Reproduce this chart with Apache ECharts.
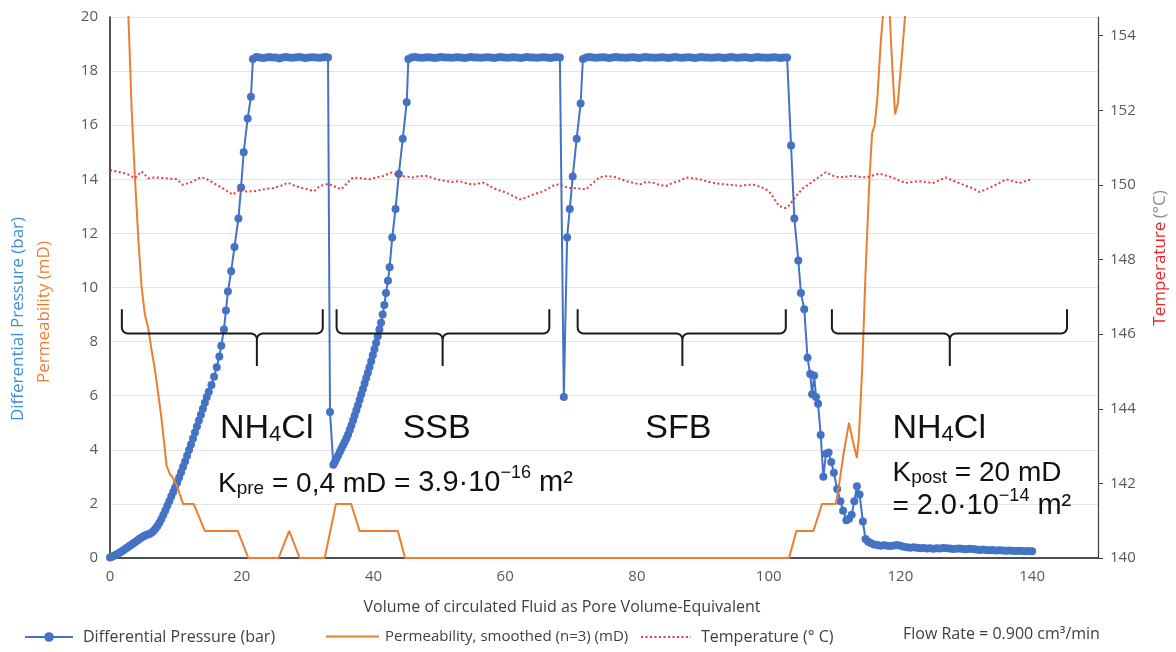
<!DOCTYPE html>
<html><head><meta charset="utf-8">
<script src="https://cdn.jsdelivr.net/npm/echarts@6/dist/echarts.min.js"></script>
<style>html,body{margin:0;padding:0;background:#fff}#c{width:1176px;height:652px}</style>
</head><body><div id="c"></div><script>
// ---------- Differential pressure (bar) vs pore volume ----------
const dpRise1 = [[0,0.02],[0.3,0.05],[0.6,0.08],[0.9,0.12],[1.2,0.16],[1.5,0.2],[1.8,0.25],[2.1,0.3],[2.4,0.35],[2.7,0.4],[3.0,0.45],[3.3,0.5],[3.6,0.55],[3.9,0.6],[4.2,0.66],[4.5,0.71],[4.8,0.76],[5.1,0.8],[5.4,0.84],[5.7,0.87],[6.0,0.89],[6.3,0.93],[6.6,1.0],[6.9,1.08],[7.2,1.18],[7.5,1.3],[7.8,1.44],[8.1,1.6],[8.4,1.76],[8.7,1.93],[9.0,2.1],[9.3,2.27],[9.6,2.44],[9.9,2.61],[10.2,2.79],[10.5,2.98],[10.8,3.17],[11.1,3.37],[11.4,3.57],[11.7,3.78],[12.0,3.99],[12.3,4.2],[12.6,4.42],[12.9,4.64],[13.2,4.86],[13.5,5.08],[13.8,5.3],[14.1,5.52],[14.4,5.74],[14.7,5.95],[15.0,6.15],[15.4,6.4],[15.8,6.7],[16.2,7.05],[16.6,7.45],[16.9,7.85],[17.3,8.45],[17.6,9.15],[17.9,9.85],[18.4,10.6],[18.9,11.5],[19.5,12.55],[19.9,13.7],[20.3,15.0],[20.9,16.25],[21.4,17.05],[21.7,18.45]];
const dpPlateau1 = [[22.2,18.52],[22.7,18.5],[23.2,18.48],[23.7,18.5],[24.2,18.52],[24.7,18.5],[25.2,18.5],[25.7,18.47],[26.2,18.5],[26.7,18.52],[27.2,18.5],[27.7,18.49],[28.2,18.5],[28.7,18.52],[29.2,18.5],[29.7,18.48],[30.2,18.5],[30.7,18.51],[31.2,18.5],[31.7,18.49],[32.2,18.5],[32.7,18.52],[33.1,18.5]];
const dpRise2 = [[33.4,5.4],[33.9,3.45],[34.15,3.55],[34.4,3.68],[34.65,3.8],[34.9,3.93],[35.15,4.05],[35.4,4.18],[35.65,4.3],[35.9,4.43],[36.15,4.57],[36.4,4.73],[36.65,4.9],[36.9,5.08],[37.15,5.27],[37.4,5.46],[37.65,5.65],[37.9,5.85],[38.15,6.05],[38.4,6.25],[38.65,6.45],[38.9,6.65],[39.15,6.85],[39.4,7.05],[39.65,7.27],[39.9,7.5],[40.15,7.72],[40.4,7.95],[40.65,8.2],[40.9,8.45],[41.15,8.7],[41.4,9.0],[41.65,9.35],[41.9,9.8],[42.2,10.25],[42.45,10.75],[42.85,11.85],[43.35,12.9],[43.85,14.2],[44.45,15.5],[45.05,16.85],[45.3,18.45]];
const dpPlateau2 = [[45.8,18.5],[46.3,18.52],[46.8,18.5],[47.3,18.49],[47.8,18.5],[48.3,18.51],[48.8,18.5],[49.3,18.48],[49.8,18.5],[50.3,18.52],[50.8,18.5],[51.3,18.5],[51.8,18.49],[52.3,18.5],[52.8,18.51],[53.3,18.5],[53.8,18.48],[54.3,18.5],[54.8,18.52],[55.3,18.5],[55.8,18.5],[56.3,18.49],[56.8,18.5],[57.3,18.51],[57.8,18.5],[58.3,18.48],[58.8,18.5],[59.3,18.52],[59.8,18.5],[60.3,18.49],[60.8,18.5],[61.3,18.51],[61.8,18.5],[62.3,18.48],[62.8,18.5],[63.3,18.52],[63.8,18.5],[64.3,18.5],[64.8,18.49],[65.3,18.5],[65.8,18.51],[66.3,18.5],[66.8,18.48],[67.3,18.5],[67.8,18.52],[68.3,18.5]];
const dpRise3 = [[68.9,5.95],[69.4,11.85],[69.8,12.9],[70.25,14.1],[70.85,15.5],[71.45,16.8],[71.8,18.45]];
const dpPlateau3 = [[72.3,18.5],[72.8,18.52],[73.3,18.5],[73.8,18.49],[74.3,18.5],[74.8,18.51],[75.3,18.5],[75.8,18.48],[76.3,18.5],[76.8,18.52],[77.3,18.5],[77.8,18.5],[78.3,18.49],[78.8,18.5],[79.3,18.51],[79.8,18.5],[80.3,18.48],[80.8,18.5],[81.3,18.52],[81.8,18.5],[82.3,18.5],[82.8,18.49],[83.3,18.5],[83.8,18.51],[84.3,18.5],[84.8,18.48],[85.3,18.5],[85.8,18.52],[86.3,18.5],[86.8,18.49],[87.3,18.5],[87.8,18.51],[88.3,18.5],[88.8,18.48],[89.3,18.5],[89.8,18.52],[90.3,18.5],[90.8,18.5],[91.3,18.49],[91.8,18.5],[92.3,18.51],[92.8,18.5],[93.3,18.48],[93.8,18.5],[94.3,18.52],[94.8,18.5],[95.3,18.49],[95.8,18.5],[96.3,18.51],[96.8,18.5],[97.3,18.48],[97.8,18.5],[98.3,18.52],[98.8,18.5],[99.3,18.5],[99.8,18.49],[100.3,18.5],[100.8,18.51],[101.3,18.5],[101.8,18.48],[102.3,18.5],[102.8,18.5]];
const dpDecline = [[103.4,15.25],[103.9,12.55],[104.5,11.0],[104.9,9.8],[105.4,9.2],[105.9,7.4],[106.3,6.8],[106.6,6.05],[106.9,6.75],[107.2,5.95],[107.5,5.7],[107.9,4.55],[108.3,3.0],[108.7,3.85],[109.1,3.9],[109.5,3.55],[109.9,3.15],[110.4,2.55],[110.9,2.1],[111.3,1.75],[111.8,1.4],[112.2,1.45],[112.6,1.6],[113.0,2.1],[113.4,2.65],[113.8,2.35],[114.3,1.35],[114.7,0.7],[115.1,0.6]];
const dpTail = [[115.5,0.55],[116,0.5],[116.5,0.48],[117,0.45],[117.5,0.47],[118,0.45],[118.5,0.44],[119,0.46],[119.5,0.48],[120,0.45],[120.5,0.42],[121,0.4],[121.5,0.38],[122,0.4],[122.5,0.38],[123,0.36],[123.5,0.37],[124,0.35],[124.5,0.36],[125,0.34],[125.5,0.36],[126,0.35],[126.5,0.37],[127,0.36],[127.5,0.35],[128,0.33],[128.5,0.34],[129,0.35],[129.5,0.33],[130,0.32],[130.5,0.34],[131,0.33],[131.5,0.31],[132,0.3],[132.5,0.31],[133,0.3],[133.5,0.29],[134,0.3],[134.5,0.28],[135,0.29],[135.5,0.28],[136,0.27],[136.5,0.28],[137,0.27],[137.5,0.26],[138,0.27],[138.5,0.26],[139,0.25],[139.5,0.26],[140,0.25]];

// ---------- Permeability, smoothed (mD) ----------
const permeability = [[1.0,60],[2.0,30],[2.8,20],[3.3,16.5],[3.8,14],[4.3,11.8],[4.8,10],[5.3,9.0],[5.8,8.5],[6.3,7.7],[6.8,7.0],[7.3,6.1],[7.8,5.2],[8.2,4.3],[8.6,3.4],[9.1,3.1],[9.6,2.95],[10.1,2.7],[10.6,2.35],[11.1,2.0],[12.7,2.0],[14.4,1.0],[19.4,1.0],[21.0,0],[25.6,0],[27.2,1.0],[28.8,0],[32.6,0],[34.3,2.0],[36.6,2.0],[37.9,1.0],[43.7,1.0],[44.8,0],[103.1,0],[104.2,1.0],[106.8,1.0],[108.1,2.0],[110.2,2.0],[110.8,2.9],[111.4,3.9],[112.2,5.0],[112.8,4.3],[113.4,3.7],[113.7,4.5],[114.2,7.0],[114.7,10.5],[115.3,14.0],[115.7,15.7],[116.1,16.0],[116.5,17.0],[117.0,19.0],[117.5,20.5],[117.9,21.0],[118.4,20.0],[118.8,18.0],[119.2,16.4],[119.6,16.8],[120.2,18.5],[120.7,20.0],[121.3,23],[122,25],[125,24],[130,23],[135,23],[140,22]];

// ---------- Temperature (°C) ----------
const temperature = [[0,150.4],[1.2,150.35],[2.5,150.3],[3.8,150.18],[4.8,150.36],[5.8,150.18],[7,150.2],[8.5,150.18],[10.1,150.15],[11.1,150.0],[12.6,150.09],[13.7,150.2],[14.4,150.18],[15.7,150.05],[17.2,149.9],[18.6,149.74],[19.8,149.88],[20.2,149.82],[21.9,149.83],[23.3,149.88],[24.9,149.92],[26,149.98],[27,150.06],[28,149.98],[29,149.92],[30,149.88],[31,149.83],[31.85,149.97],[33.1,150.03],[34.2,149.95],[35.1,149.88],[36.0,150.05],[36.9,150.2],[38,150.18],[39.4,150.15],[40.5,150.2],[41.5,150.24],[42.7,150.33],[44.0,150.24],[45,150.22],[46,150.2],[47,150.24],[48,150.24],[49.6,150.15],[50.4,150.12],[51.1,150.1],[52,150.08],[53.1,150.1],[54,150.05],[55.1,150.01],[56.6,150.06],[57.4,150.0],[58.1,149.92],[59.2,149.85],[60.2,149.79],[61.2,149.7],[62.2,149.61],[63.0,149.65],[63.7,149.7],[64.5,149.76],[65.2,149.79],[66,149.85],[66.7,149.92],[67.5,150.0],[68.3,150.01],[69.0,149.95],[69.8,149.92],[70.3,149.92],[71.3,149.9],[72.3,149.88],[73.3,150.05],[74.3,150.2],[75.5,150.24],[76.9,150.2],[77.6,150.15],[78.4,150.1],[79.4,150.06],[80.4,150.01],[81.4,150.08],[82.4,150.06],[83.4,150.0],[84.4,149.97],[85.4,150.05],[86.4,150.1],[87.5,150.2],[88.5,150.18],[89.5,150.15],[90.5,150.1],[91.5,150.06],[92.5,150.03],[93.5,150.01],[94.5,150.0],[95.6,149.97],[96.6,150.0],[97.6,150.01],[98.6,149.96],[99.6,149.88],[100.1,149.81],[100.6,149.7],[101.1,149.55],[101.6,149.44],[102.1,149.4],[102.6,149.38],[103.1,149.45],[103.6,149.57],[104.4,149.75],[105.2,149.91],[106.0,150.0],[106.7,150.1],[107.7,150.22],[108.7,150.34],[109.7,150.25],[110.7,150.2],[111.7,150.22],[112.7,150.25],[113.7,150.22],[114.8,150.2],[115.8,150.25],[116.8,150.3],[117.8,150.25],[118.8,150.2],[119.8,150.12],[120.8,150.05],[121.8,150.08],[122.8,150.1],[123.8,150.08],[124.9,150.05],[125.9,150.12],[126.9,150.2],[127.9,150.12],[128.9,150.05],[129.9,149.98],[131.0,149.91],[132.0,149.81],[133.0,149.88],[134.0,149.96],[135.0,150.05],[136.1,150.15],[137.1,150.1],[138.1,150.05],[139.0,150.1],[139.9,150.15]];

// ---------- axis ticks / labels ----------
const xTicks = [0,20,40,60,80,100,120,140];
const tempTicks = [140,142,144,146,148,150,152,154];
const seriesNames = ['Differential Pressure (bar)','Permeability, smoothed (n=3) (mD)','Temperature (° C)'];

// phase brackets: [start, end, centre] in pore volumes
const brackets = [[1.8,32.3,22.3],[34.4,66.7,50.5],[71.0,102.6,86.9],[109.6,145.3,127.5]];

const diffPressure = [].concat(dpRise1, dpPlateau1, dpRise2, dpPlateau2, dpRise3, dpPlateau3, dpDecline, dpTail);

const chart = echarts.init(document.getElementById('c'), null, {renderer:'canvas'});
const axisFont = 'Open Sans';
const labelColor = '#595959';
function legendText(size,pad){ return {fontSize:size,fontFamily:axisFont,color:'#404040',padding:[0,0,0,pad]}; }

chart.setOption({
  animation:false,
  backgroundColor:'#fff',
  grid:{left:110,right:78,top:17,bottom:94},
  xAxis:{type:'value',min:0,max:150,interval:20,
    axisLine:{show:true,lineStyle:{color:'#1a1a1a',width:1.5}},
    axisTick:{show:false},splitLine:{show:false},
    axisLabel:{customValues:xTicks,color:labelColor,fontSize:15,fontFamily:axisFont,margin:11}},
  yAxis:[
    {type:'value',min:0,max:20,interval:2,
      axisLine:{show:true,lineStyle:{color:'#1a1a1a',width:1.5}},
      axisTick:{show:false},
      splitLine:{show:true,lineStyle:{color:'#e3e3e3',width:1.2}},
      axisLabel:{color:labelColor,fontSize:15,fontFamily:axisFont,margin:12}},
    {type:'value',position:'right',min:140,max:154.5,interval:2,
      axisLine:{show:true,lineStyle:{color:'#404040',width:1.2}},
      axisTick:{show:true,customValues:tempTicks,length:5,lineStyle:{color:'#404040'}},
      splitLine:{show:false},
      axisLabel:{customValues:tempTicks,color:labelColor,fontSize:15,fontFamily:axisFont,margin:12}}
  ],
  legend:[
    {left:19,top:624,itemWidth:48,itemHeight:12,data:[seriesNames[0]],textStyle:legendText(16,5)},
    {left:320,top:624,itemWidth:53,itemHeight:12,data:[{name:seriesNames[1],itemStyle:{opacity:0}}],textStyle:legendText(15,1)},
    {left:635,top:624,itemWidth:50,itemHeight:12,data:[{name:seriesNames[2],itemStyle:{opacity:0}}],textStyle:legendText(16,5)}
  ],
  series:[
    {name:seriesNames[0],type:'line',yAxisIndex:0,data:diffPressure,
      symbol:'circle',symbolSize:8,color:'#4472C4',
      lineStyle:{width:2,color:'#4472C4'},itemStyle:{color:'#4472C4'},z:3},
    {name:seriesNames[1],type:'line',yAxisIndex:0,data:permeability,
      symbol:'none',clip:true,color:'#ED7D31',lineStyle:{width:2,color:'#ED7D31'},z:4},
    {name:seriesNames[2],type:'line',yAxisIndex:1,data:temperature,
      symbol:'none',color:'#E8393C',lineStyle:{width:2,color:'#E8393C',type:[2,2.5]},z:5}
  ]
});

function px(x,y){ return chart.convertToPixel({xAxisIndex:0,yAxisIndex:0},[x,y]); }
function arcPts(cx,cy,r,a0,a1){
  const pts=[]; const n=6;
  for(let i=0;i<=n;i++){ const a=(a0+(a1-a0)*i/n)*Math.PI/180; pts.push([cx+r*Math.cos(a),cy+r*Math.sin(a)]); }
  return pts;
}

const graphics = [];
// brackets (curly braces below each phase)
brackets.forEach(b=>{
  const xl = px(b[0],8.3)[0], xr = px(b[1],8.3)[0], xc = px(b[2],8.3)[0];
  const yL = px(0,8.3)[1], yTip = px(0,9.2)[1], ySp = px(0,7.1)[1];
  const r = 6;
  const left = [[xl,yTip]].concat(arcPts(xl+r,yL-r,r,180,90), arcPts(xc-r,yL+r,r,270,360), [[xc,ySp]]);
  const right = [].concat(arcPts(xc+r,yL+r,r,180,270), arcPts(xr-r,yL-r,r,90,0), [[xr,yTip]]);
  [left,right].forEach(pts=>graphics.push({type:'polyline',shape:{points:pts},
    style:{stroke:'#1a1a1a',lineWidth:2,fill:null},z:10}));
});

const annFont = 'Liberation Sans';
function tok(size,lh,va){ return {fontSize:size,fontFamily:annFont,fill:'#111',color:'#111',lineHeight:lh,verticalAlign:va}; }
const big = tok(34,40,'bottom'), bigSub = tok(22,34,'bottom');
const mid = tok(28,34,'bottom'), midSub = tok(19,29,'bottom'), midSup = tok(18,34,'top'), math = tok(29,34,'bottom');

function addText(x,y,text,rich,align){
  const p = px(x,y);
  graphics.push({type:'text',x:p[0],y:p[1],z:11,
    style:{text:text,rich:rich,align:align||'left',verticalAlign:'middle'}});
}
addText(16.7,4.9,'{a|NH}{s|4}{a|Cl}',{a:big,s:bigSub});
addText(49.6,4.9,'{a|SSB}',{a:big},'center');
addText(86.3,4.9,'{a|SFB}',{a:big},'center');
addText(118.8,4.9,'{a|NH}{s|4}{a|Cl}',{a:big,s:bigSub});
addText(16.4,2.85,'{k|K}{s|pre}{k| = 0,4 mD = }{m|3.9·10}{u|−16}{m| m²}',{k:mid,s:midSub,m:math,u:midSup});
addText(118.8,3.25,'{k|K}{s|post}{k| = 20 mD}',{k:mid,s:midSub});
addText(118.8,2.0,'{k|= }{m|2.0·10}{u|−14}{m| m²}',{k:mid,m:math,u:midSup});

// axis titles
graphics.push({type:'text',x:18,y:319,rotation:Math.PI/2,z:11,
  style:{text:'Differential Pressure (bar)',fill:'#3C8DD6',font:'17px "Open Sans"',align:'center',verticalAlign:'middle'}});
graphics.push({type:'text',x:44,y:312,rotation:Math.PI/2,z:11,
  style:{text:'Permeability (mD)',fill:'#ED7D31',font:'17px "Open Sans"',align:'center',verticalAlign:'middle'}});
graphics.push({type:'text',x:1160,y:258,rotation:Math.PI/2,z:11,
  style:{text:'{t|Temperature} {g|(°C)}',align:'center',verticalAlign:'middle',
    rich:{t:{fontSize:17,fontFamily:axisFont,fill:'#E8262A',color:'#E8262A'},g:{fontSize:17,fontFamily:axisFont,fill:'#8a8a8a',color:'#8a8a8a'}}}});
// x axis title
graphics.push({type:'text',x:562,y:607,z:11,
  style:{text:'Volume of circulated Fluid as Pore Volume-Equivalent',fill:'#404040',font:'16px "Open Sans"',align:'center',verticalAlign:'middle'}});
// flow rate note
graphics.push({type:'text',x:903,y:634,z:11,
  style:{text:'Flow Rate = 0.900 cm³/min',fill:'#404040',font:'16px "Open Sans"',align:'left',verticalAlign:'middle'}});

chart.setOption({graphic:{elements:graphics}});
</script></body></html>
